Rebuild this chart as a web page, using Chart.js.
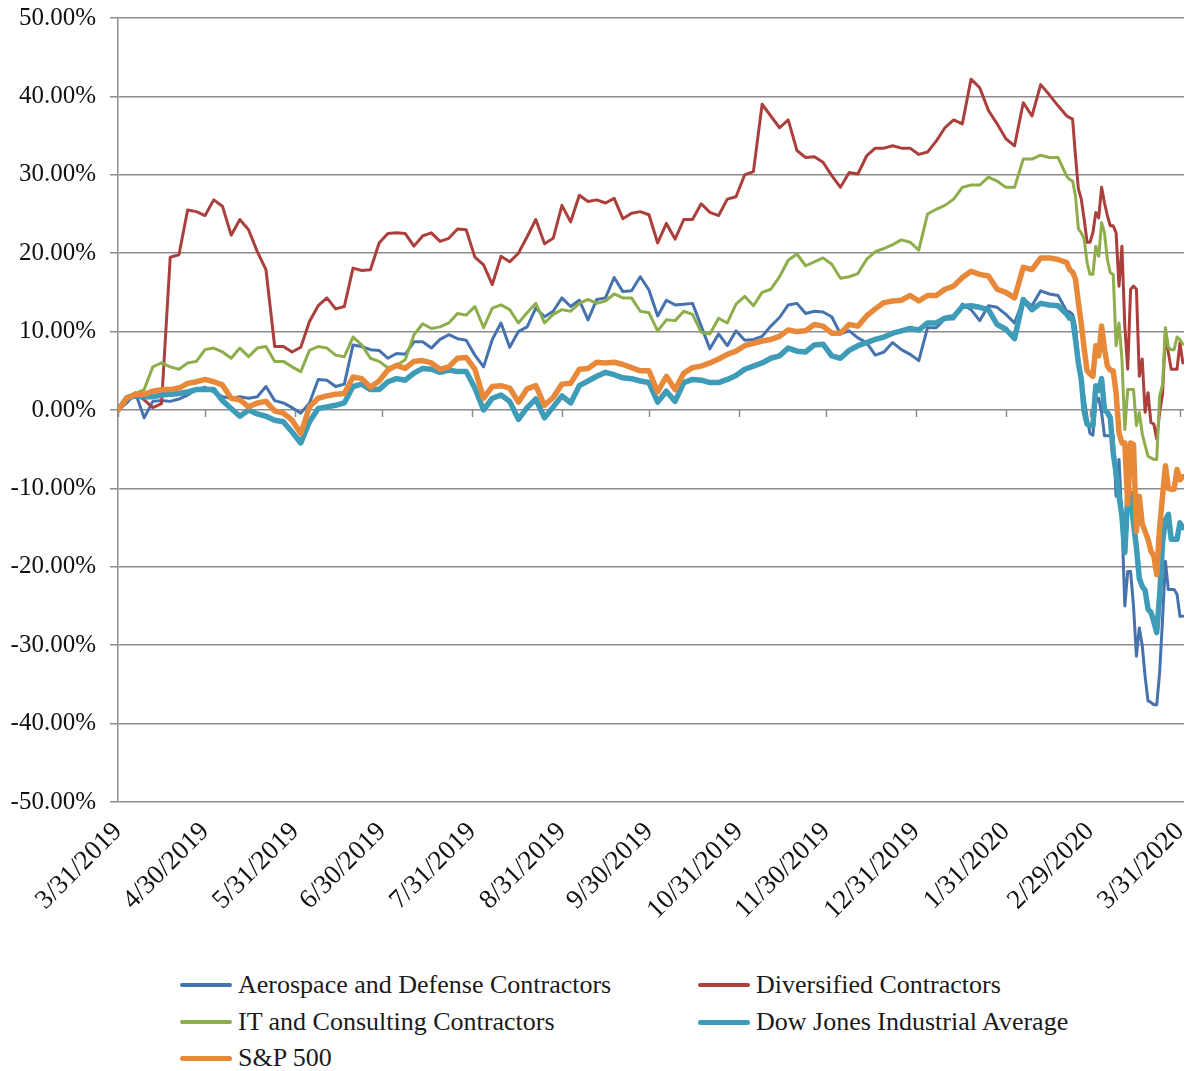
<!DOCTYPE html>
<html>
<head>
<meta charset="utf-8">
<title>Contractor returns vs. indices</title>
<script src="https://cdn.jsdelivr.net/npm/chart.js@4.4.1/dist/chart.umd.min.js"></script>
<style>
  html, body { margin: 0; padding: 0; background: #fff; }
  #wrap { position: relative; width: 1189px; height: 1071px; }
  #chart { position: absolute; left: 0; top: 0; }
  .legend-item {
    position: absolute; height: 30px; display: flex; align-items: center;
    font-family: 'Liberation Serif', 'Times New Roman', serif; font-size: 26px;
    color: #1a1a1a; white-space: nowrap;
  }
  .legend-item .swatch { display: inline-block; width: 52px; border-radius: 3px; margin-right: 6px; }
</style>
</head>
<body>
<div id="wrap">
  <canvas id="chart" width="1189" height="950"></canvas>
  <div id="legend"></div>
</div>
<script>
// day offsets from 3/31/2019 (every 3 days, then daily through the March 2020 sell-off)
const days = [
  0, 3, 6, 9, 12, 15, 18, 21, 24, 27, 30, 33, 36, 39, 42, 45, 48, 51, 54, 57,
  60, 63, 66, 69, 72, 75, 78, 81, 84, 87, 90, 93, 96, 99, 102, 105, 108, 111, 114, 117,
  120, 123, 126, 129, 132, 135, 138, 141, 144, 147, 150, 153, 156, 159, 162, 165, 168, 171, 174, 177,
  180, 183, 186, 189, 192, 195, 198, 201, 204, 207, 210, 213, 216, 219, 222, 225, 228, 231, 234, 237,
  240, 243, 246, 249, 252, 255, 258, 261, 264, 267, 270, 273, 276, 279, 282, 285, 288, 291, 294, 297,
  300, 303, 306, 309, 312, 315, 318, 321, 324,
  327, 328, 329, 330, 331, 332, 333, 334, 335, 336, 337, 338, 339, 340, 341, 342, 343, 344, 345, 346,
  347, 348, 349, 350, 351, 352, 353, 354, 355, 356, 357, 358, 359, 360, 361, 362, 363, 364, 365, 366, 367
];

// cumulative return, %
const aerospace = [
  0, 0.9, 2.2, -1.0, 1.1, 1.2, 1.1, 1.4, 1.9, 2.6,
  2.9, 2.3, 1.7, 1.5, 1.7, 1.5, 1.7, 3.0, 1.2, 0.9,
  0.3, -0.4, 0.9, 3.9, 3.8, 3.0, 3.3, 8.3, 8.1, 7.7,
  7.6, 6.6, 7.2, 7.1, 8.7, 8.7, 7.9, 9.0, 9.6, 9.1,
  8.9, 7.0, 5.5, 9.0, 11.1, 8.0, 10.0, 10.6, 13.0, 11.9,
  12.6, 14.3, 13.2, 14.0, 11.5, 14.1, 14.3, 16.9, 15.1, 15.2,
  17.0, 15.3, 12.0, 14.0, 13.4, 13.5, 13.6, 10.7, 7.8, 9.7,
  8.2, 10.1, 8.9, 9.0, 9.4, 10.7, 11.8, 13.4, 13.6, 12.3,
  12.6, 12.5, 11.9, 9.7, 10.1, 9.2, 8.6, 7.0, 7.4, 8.6,
  7.7, 7.1, 6.3, 10.5, 10.5, 11.6, 11.6, 13.5, 12.8, 11.4,
  13.3, 13.1, 12.2, 11.1, 14.1, 13.3, 15.2, 14.8, 14.6,
  12.6, 12.5, 12.2, 10.7, 6.5, 3.9, 1.5, -1.0, -3.0, -3.2,
  1.0, 1.5, -0.3, -3.3, -3.3, -3.3, -3.3, -11.0, -6.3, -14.0,
  -25.0, -20.6, -20.6, -25.0, -31.4, -27.8, -30.0, -34.0, -37.1, -37.3,
  -37.6, -37.6, -33.5, -26.7, -19.3, -22.9, -22.9, -22.9, -23.5, -26.3, -26.3
];
const diversified = [
  0, 1.7, 2.1, 1.3, 0.3, 0.8, 19.5, 19.8, 25.5, 25.3,
  24.8, 26.8, 26.0, 22.3, 24.3, 23.0, 20.2, 17.9, 8.1, 8.1,
  7.4, 8.0, 11.3, 13.3, 14.3, 12.9, 13.2, 18.1, 17.8, 17.9,
  21.3, 22.5, 22.6, 22.5, 20.9, 22.2, 22.6, 21.5, 21.9, 23.1,
  23.0, 19.5, 18.5, 16.0, 19.6, 18.9, 20.0, 22.1, 24.3, 21.2,
  21.9, 26.1, 24.0, 27.4, 26.6, 26.8, 26.4, 27.0, 24.4, 25.1,
  25.3, 24.9, 21.3, 23.8, 21.8, 24.3, 24.3, 26.3, 25.2, 24.8,
  26.9, 27.2, 30.0, 30.4, 39.0, 37.5, 36.0, 37.0, 33.1, 32.2,
  32.3, 31.6, 29.9, 28.4, 30.3, 30.1, 32.4, 33.4, 33.4, 33.7,
  33.4, 33.4, 32.6, 32.9, 34.3, 36.0, 37.0, 36.5, 42.2, 41.1,
  38.2, 36.5, 34.6, 33.7, 39.2, 37.5, 41.5, 40.2, 38.8,
  37.5, 37.3, 37.1, 32.4, 28.2, 26.9, 24.3, 21.4, 21.4, 22.6,
  25.2, 24.5, 28.4, 26.4, 24.8, 23.5, 23.5, 22.6, 15.8, 20.9,
  10.7, 5.2, 15.4, 15.8, 15.4, 4.3, 6.5, -0.3, 2.2, -1.6,
  -1.8, -3.7, -0.3, 2.0, 9.9, 7.3, 5.2, 5.2, 5.2, 8.6, 6.0
];
const itConsulting = [
  0, 1.7, 2.1, 2.6, 5.5, 6.0, 5.5, 5.2, 6.0, 6.2,
  7.7, 7.9, 7.4, 6.6, 7.9, 6.8, 7.9, 8.1, 6.2, 6.2,
  5.5, 4.9, 7.6, 8.1, 7.9, 7.0, 6.8, 9.3, 8.3, 6.6,
  6.2, 5.4, 5.7, 6.4, 9.6, 11.0, 10.4, 10.6, 11.1, 12.3,
  12.1, 13.2, 10.5, 13.0, 13.4, 12.8, 11.1, 12.4, 13.6, 11.1,
  12.2, 12.8, 12.6, 13.6, 14.1, 13.6, 13.9, 14.8, 14.3, 14.3,
  12.6, 12.4, 10.1, 11.5, 11.4, 12.6, 12.2, 9.9, 9.7, 11.7,
  11.1, 13.5, 14.5, 13.3, 15.0, 15.4, 17.0, 19.1, 19.9, 18.4,
  18.9, 19.4, 18.6, 16.8, 17.0, 17.4, 19.2, 20.2, 20.6, 21.1,
  21.7, 21.4, 20.4, 25.0, 25.6, 26.1, 26.9, 28.4, 28.7, 28.7,
  29.7, 29.2, 28.4, 28.4, 32.0, 32.0, 32.5, 32.2, 32.2,
  29.8, 29.4, 29.2, 27.3, 23.1, 22.6, 21.8, 18.8, 17.3, 17.3,
  20.9, 19.6, 23.9, 22.6, 19.2, 17.5, 17.3, 8.2, 11.1, 6.5,
  -2.5, 2.6, 2.6, 2.6, -2.0, -0.3, -3.0, -4.5, -5.9, -6.1,
  -6.3, -6.3, 1.8, 3.2, 10.5, 8.0, 7.7, 7.7, 9.3, 9.0, 8.4
];
const dowJones = [
  0, 1.5, 1.8, 1.7, 1.7, 1.9, 2.0, 2.1, 2.3, 2.6,
  2.6, 2.6, 1.2, 0.2, -0.8, 0.0, -0.5, -0.8, -1.3, -1.5,
  -2.8, -4.2, -1.5, 0.2, 0.4, 0.6, 0.9, 3.0, 3.3, 2.6,
  2.6, 3.6, 4.0, 3.8, 4.7, 5.3, 5.2, 4.8, 5.1, 4.9,
  4.9, 2.8, 0.0, 1.5, 1.9, 1.1, -1.2, 0.3, 1.4, -1.0,
  0.4, 1.8, 0.9, 3.1, 3.7, 4.3, 4.8, 4.5, 4.1, 4.0,
  3.7, 3.5, 1.0, 2.4, 1.1, 3.5, 3.9, 3.8, 3.5, 3.5,
  3.9, 4.4, 5.2, 5.6, 6.0, 6.6, 6.9, 7.9, 7.5, 7.4,
  8.3, 8.4, 6.9, 6.6, 7.6, 8.2, 8.6, 9.0, 9.3, 9.8,
  10.1, 10.4, 10.2, 11.1, 11.1, 11.7, 11.9, 13.2, 13.3, 13.1,
  12.8, 10.9, 10.3, 9.1, 14.1, 12.8, 13.6, 13.4, 13.3,
  12.2, 11.7, 11.7, 9.0, 6.0, 3.9, -0.2, -1.8, -2.0, -2.0,
  3.1, 2.5, 4.0, 0.0, -0.3, -1.0, -5.5, -8.0, -11.0, -13.5,
  -18.2, -11.0, -10.6, -14.5, -17.5, -21.5, -22.5, -23.0, -25.4, -25.8,
  -27.0, -28.4, -23.7, -17.0, -14.0, -13.3, -16.5, -16.5, -16.5, -14.4, -15.0
];
const sp500 = [
  0, 1.5, 2.0, 2.0, 2.4, 2.6, 2.6, 2.8, 3.4, 3.6,
  3.9, 3.6, 3.2, 1.5, 1.3, 0.4, 0.9, 1.1, -0.1, -0.4,
  -1.3, -3.0, 0.4, 1.5, 1.8, 2.0, 2.1, 4.2, 4.0, 2.9,
  3.7, 5.1, 5.7, 5.3, 6.2, 6.3, 6.0, 5.2, 5.5, 6.6,
  6.7, 5.2, 1.5, 3.0, 3.1, 2.8, 1.0, 2.7, 3.1, 0.6,
  1.6, 3.3, 3.4, 5.2, 5.3, 6.1, 6.0, 6.1, 5.8, 5.4,
  5.0, 5.0, 2.3, 4.3, 2.6, 4.7, 5.4, 5.6, 6.0, 6.5,
  7.1, 7.5, 8.2, 8.5, 8.8, 9.0, 9.4, 10.2, 10.0, 10.1,
  10.9, 10.7, 9.8, 9.8, 10.9, 10.7, 12.0, 12.9, 13.7, 13.9,
  14.0, 14.6, 13.9, 14.6, 14.6, 15.4, 15.8, 16.9, 17.7, 17.3,
  17.1, 15.4, 15.0, 14.3, 18.2, 17.9, 19.4, 19.4, 19.2,
  18.8, 17.9, 17.6, 16.7, 13.7, 11.0, 7.8, 5.0, 4.6, 4.3,
  8.2, 6.9, 10.7, 7.8, 5.6, 5.1, 5.0, 2.2, -2.9, -4.2,
  -4.2, -12.0, -4.2, -4.4, -15.5, -11.0, -14.5, -15.5, -16.5, -18.0,
  -18.6, -21.0, -15.0, -11.0, -7.1, -10.0, -10.1, -10.1, -7.6, -8.9, -8.5
];

const tickDays = [0, 30, 61, 91, 122, 153, 183, 214, 244, 275, 306, 335, 366];
const tickLabels = ['3/31/2019', '4/30/2019', '5/31/2019', '6/30/2019', '7/31/2019', '8/31/2019',
  '9/30/2019', '10/31/2019', '11/30/2019', '12/31/2019', '1/31/2020', '2/29/2020', '3/31/2020'];

const seriesNames = ['Aerospace and Defense Contractors', 'Diversified Contractors',
  'IT and Consulting Contractors', 'Dow Jones Industrial Average', 'S&P 500'];
const seriesValues = [aerospace, diversified, itConsulting, dowJones, sp500];
const seriesColors = ['#4672ae', '#ab3f3c', '#8dae4a', '#3e9cb8', '#e8893a'];
const seriesWidths = [3, 3, 3, 5.5, 5.5];

const FONT = "'Liberation Serif', 'Times New Roman', serif";
const GRID = '#8c8c8c';

const datasets = seriesNames.map((name, k) => ({
  label: name,
  data: days.map((d, i) => ({ x: d, y: seriesValues[k][i] })),
  borderColor: seriesColors[k],
  backgroundColor: seriesColors[k],
  borderWidth: seriesWidths[k],
  pointRadius: 0,
  tension: 0,
  borderJoinStyle: 'round',
  borderCapStyle: 'round',
  order: seriesNames.length - k   // later series drawn on top, as in the original
}));

// small tick marks where the category axis crosses at 0%
const zeroTicks = {
  id: 'zeroTicks',
  beforeDatasetsDraw(chart) {
    const { ctx, scales: { x, y } } = chart;
    const y0 = y.getPixelForValue(0);
    ctx.save();
    ctx.strokeStyle = GRID;
    ctx.lineWidth = 1.5;
    x.ticks.forEach(t => {
      const px = Math.round(x.getPixelForValue(t.value)) + 0.5;
      ctx.beginPath();
      ctx.moveTo(px, y0);
      ctx.lineTo(px, y0 + 7);
      ctx.stroke();
    });
    ctx.restore();
  }
};

new Chart(document.getElementById('chart'), {
  type: 'line',
  data: { datasets },
  options: {
    responsive: false,
    animation: false,
    devicePixelRatio: 1,
    layout: { padding: { top: 18, right: 5, left: 0, bottom: 0 } },
    plugins: { legend: { display: false }, tooltip: { enabled: false } },
    scales: {
      x: {
        type: 'linear',
        min: 0,
        max: 367.4,
        grid: { display: false },
        border: { display: false },
        afterBuildTicks: s => { s.ticks = tickDays.map(v => ({ value: v })); },
        afterFit: s => {
          s.height = 148;
          s.paddingLeft = 0;
          s.paddingRight = 0;
        },
        ticks: {
          autoSkip: false,
          minRotation: 45,
          maxRotation: 45,
          padding: 6,
          color: '#111',
          font: { family: FONT, size: 27 },
          callback: (v, i) => tickLabels[i]
        }
      },
      y: {
        min: -50,
        max: 50,
        afterFit: s => {
          s.width = 118;
          s.paddingTop = 0;
          s.paddingBottom = 0;
        },
        grid: { color: GRID, lineWidth: 1.5, tickLength: 8 },
        border: { display: true, color: GRID, width: 1.5 },
        ticks: {
          stepSize: 10,
          padding: 14,
          color: '#111',
          font: { family: FONT, size: 25 },
          callback: v => v.toFixed(2) + '%'
        }
      }
    }
  },
  plugins: [zeroTicks]
});

// legend laid out in two columns like the original
const legend = document.getElementById('legend');
const colX = [180, 698];
const rowY = [985, 1022, 1058];
seriesNames.forEach((name, k) => {
  const item = document.createElement('div');
  item.className = 'legend-item';
  item.style.left = colX[k % 2] + 'px';
  item.style.top = (rowY[Math.floor(k / 2)] - 15) + 'px';
  const sw = document.createElement('span');
  sw.className = 'swatch';
  sw.style.background = seriesColors[k];
  sw.style.height = (k >= 3 ? 5 : 4) + 'px';
  item.appendChild(sw);
  item.appendChild(document.createTextNode(name));
  legend.appendChild(item);
});
</script>
</body>
</html>
